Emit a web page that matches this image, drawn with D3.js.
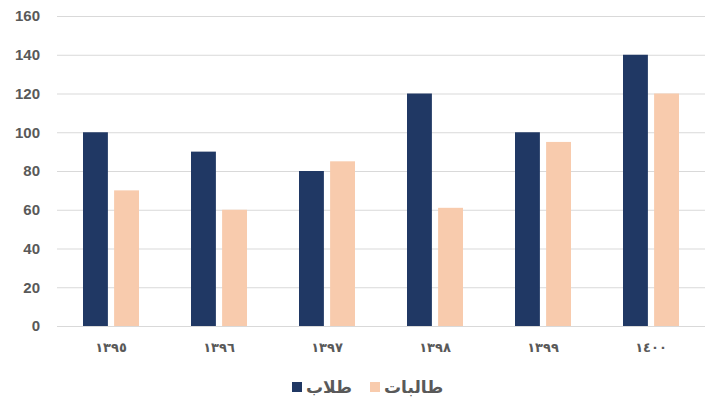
<!DOCTYPE html>
<html>
<head>
<meta charset="utf-8">
<script src="https://cdn.jsdelivr.net/npm/d3@7"></script>
<style>
	body { margin: 0; background: #fff; }
	svg { display: block; font-family: 'Liberation Sans', Arial, 'DejaVu Sans', sans-serif; }
</style>
</head>
<body>
<svg></svg>
<script>
const w = 715;
const h = 404;

const years = ['١٣٩٥', '١٣٩٦', '١٣٩٧', '١٣٩٨', '١٣٩٩', '١٤٠٠'];
const seriesNames = ['طلاب', 'طالبات'];
const boys = [100, 90, 80, 120, 100, 140];
const girls = [70, 60, 85, 61, 95, 120];
const yTicks = [0, 20, 40, 60, 80, 100, 120, 140, 160];
const colors = ['#203864', '#f8cbad'];

let canvas = d3.select('svg').attr('width', w).attr('height', h);

const plotLeft = 57;
const plotRight = 705;
const plotTop = 16;
const plotBottom = 326;

const xScale = d3.scaleBand().domain(years).range([plotLeft, plotRight]);
const subScale = d3.scaleBand().domain(seriesNames).range([-28, 28]).paddingInner(0.2);
const yScale = d3.scaleLinear().domain([0, 160]).range([plotBottom, plotTop]);

// gridlines + y labels
const yAxis = d3.axisLeft(yScale).tickValues(yTicks).tickSize(-(plotRight - plotLeft)).tickPadding(17);
const gy = canvas.append('g').attr('transform', `translate(${plotLeft},0)`).call(yAxis);
gy.select('.domain').remove();
gy.selectAll('line').attr('stroke', '#d9d9d9').attr('stroke-width', 1);
gy.selectAll('text')
	.attr('fill', '#595959')
	.attr('font-size', '15px')
	.attr('font-weight', 'bold');

// bars
const groups = canvas
	.selectAll('.grp')
	.data(years)
	.enter()
	.append('g')
	.attr('transform', (d) => `translate(${xScale(d) + xScale.bandwidth() / 2},0)`);

groups
	.selectAll('rect')
	.data((d, i) => [
		{ name: seriesNames[0], value: boys[i] },
		{ name: seriesNames[1], value: girls[i] },
	])
	.enter()
	.append('rect')
	.attr('x', (d) => subScale(d.name))
	.attr('width', subScale.bandwidth())
	.attr('y', (d) => yScale(d.value))
	.attr('height', (d) => yScale(0) - yScale(d.value))
	.attr('fill', (d, i) => colors[i]);

// x labels
const xAxis = d3.axisBottom(xScale).tickSize(0).tickPadding(17);
const gx = canvas.append('g').attr('transform', `translate(0,${plotBottom})`).call(xAxis);
gx.select('.domain').remove();
gx.selectAll('text')
	.attr('fill', '#595959')
	.attr('font-size', '13px')
	.attr('font-weight', 'bold')
	.attr('letter-spacing', '2.5px')
	.attr('font-family', "'DejaVu Sans', sans-serif");

// legend
const legend = canvas.append('g').attr('transform', 'translate(0,387)');
const legendX = [292, 370];
seriesNames.forEach((name, i) => {
	legend
		.append('rect')
		.attr('x', legendX[i])
		.attr('y', -5)
		.attr('width', 10)
		.attr('height', 10)
		.attr('fill', colors[i]);
	legend
		.append('text')
		.attr('x', legendX[i] + 14)
		.attr('y', 6)
		.attr('fill', '#595959')
		.attr('font-size', '17px')
		.attr('font-weight', 'bold')
		.attr('font-family', "'DejaVu Sans', sans-serif")
		.attr('direction', 'rtl')
		.attr('text-anchor', 'end')
		.text(name);
});
</script>
</body>
</html>
